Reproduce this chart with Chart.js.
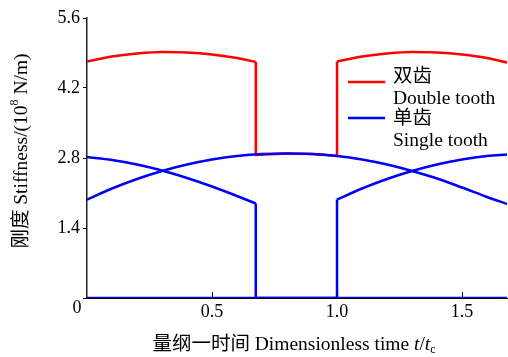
<!DOCTYPE html>
<html>
<head>
<meta charset="utf-8">
<script src="https://cdn.jsdelivr.net/npm/chart.js@4/dist/chart.umd.min.js"></script>
<style>
  html, body { margin: 0; padding: 0; background: #fff; }
  #wrap { width: 508px; height: 357px; }
</style>
</head>
<body>
<div id="wrap"><canvas id="chart" width="508" height="357"></canvas></div>
<script>
// ---- datos ----
// rigidez doble diente (roja)
const doubleX = [0, 0.1, 0.2, 0.3, 0.4, 0.5, 0.6, 0.675, 0.675, 0.8, 0.9, 1.0, 1.0, 1.1, 1.2, 1.3, 1.4, 1.5, 1.6, 1.68];
const doubleY = [4.73, 4.83, 4.89, 4.92, 4.91, 4.87, 4.80, 4.72, 2.86, 2.89, 2.88, 2.84, 4.73, 4.83, 4.89, 4.92, 4.91, 4.87, 4.80, 4.71];

// par de dientes que sale (azul)
const pairAX = [0, 0.1, 0.2, 0.3, 0.4, 0.5, 0.6, 0.675, 0.675, 1.68];
const pairAY = [2.82, 2.76, 2.67, 2.55, 2.40, 2.23, 2.04, 1.89, 0, 0];

// par de dientes que engrana todo el intervalo (azul)
const pairBX = [0, 0.1, 0.2, 0.3, 0.4, 0.5, 0.6, 0.7, 0.8, 0.9, 1.0, 1.1, 1.2, 1.3, 1.4, 1.5, 1.6, 1.68];
const pairBY = [1.97, 2.19, 2.38, 2.54, 2.67, 2.77, 2.84, 2.88, 2.89, 2.88, 2.84, 2.77, 2.67, 2.54, 2.39, 2.21, 2.02, 1.88];

// par de dientes que entra (azul)
const pairCX = [0, 1.0, 1.0, 1.1, 1.2, 1.3, 1.4, 1.5, 1.6, 1.68];
const pairCY = [0, 0, 1.97, 2.19, 2.38, 2.54, 2.67, 2.77, 2.84, 2.87];

const xTicks = [0, 0.5, 1.0, 1.5];
const xTickLabels = ['0', '0.5', '1.0', '1.5'];
const yTicks = [0, 1.4, 2.8, 4.2, 5.6];
const yTickLabels = ['0', '1.4', '2.8', '4.2', '5.6'];

const legendLabels = [['双齿', 'Double tooth'], ['单齿', 'Single tooth']];
const xTitle = '量纲一时间 Dimensionless time ';
const yTitle = ['刚度 Stiffness/(10', '8', ' N/m)'];

const RED = '#ff0000';
const BLUE = '#0000ff';
const SERIF = '"Liberation Serif", "Noto Sans CJK SC", serif';

// tramo de una serie: puntos desde el indice a hasta b (incluido)
function part(xs, ys, a, b) {
    const pts = [];
    for (let i = a; i <= b; i++) pts.push({ x: xs[i], y: ys[i] });
    return pts;
}

// arcos suaves y saltos rectos, cada uno como dataset propio
function curve(data, color, order) {
    return { data, borderColor: color, order, pointRadius: 0, borderWidth: 2.5, cubicInterpolationMode: 'monotone', fill: false };
}
function straight(data, color, order) {
    return { data, borderColor: color, order, pointRadius: 0, borderWidth: 2.5, tension: 0, fill: false };
}

// dibuja texto con trozos de distinto tamaño (superindice / subindice)
function drawRich(ctx, segs, cx, cy) {
    let total = 0;
    segs.forEach(s => {
        ctx.font = (s.italic ? 'italic ' : '') + s.size + 'px ' + SERIF;
        s.w = ctx.measureText(s.t).width;
        total += s.w;
    });
    let x = cx - total / 2;
    ctx.textAlign = 'left';
    ctx.textBaseline = 'middle';
    segs.forEach(s => {
        ctx.font = (s.italic ? 'italic ' : '') + s.size + 'px ' + SERIF;
        ctx.fillText(s.t, x, cy + (s.dy || 0));
        x += s.w;
    });
}

const extras = {
    id: 'extras',
    afterDraw(chart) {
        const ctx = chart.ctx;
        const xs = chart.scales.x;
        const area = chart.chartArea;
        ctx.save();
        ctx.fillStyle = '#000';
        ctx.strokeStyle = '#000';

        // marcas del eje x hacia dentro
        ctx.lineWidth = 1;
        xTicks.forEach(v => {
            if (v === 0) return;
            const px = Math.round(xs.getPixelForValue(v)) + 0.5;
            ctx.beginPath();
            ctx.moveTo(px, area.bottom - 1);
            ctx.lineTo(px, area.bottom - 6);
            ctx.stroke();
        });

        // el "0" compartido en el origen
        ctx.font = '18px ' + SERIF;
        ctx.textAlign = 'center';
        ctx.textBaseline = 'middle';
        ctx.fillText(xTickLabels[0], area.left - 10, area.bottom + 10);

        // titulo eje x
        drawRich(ctx, [
            { t: xTitle, size: 19.5 },
            { t: 't', size: 19.5, italic: true },
            { t: '/', size: 19.5 },
            { t: 't', size: 19.5, italic: true },
            { t: 'c', size: 12, dy: 5 }
        ], 294, 345);

        // titulo eje y
        ctx.save();
        ctx.translate(22, 151);
        ctx.rotate(-Math.PI / 2);
        drawRich(ctx, [
            { t: yTitle[0], size: 19.5 },
            { t: yTitle[1], size: 12, dy: -7 },
            { t: yTitle[2], size: 19.5 }
        ], 0, 0);
        ctx.restore();

        // leyenda
        const items = [
            { color: RED, y: 82, t1: 77, t2: 99, text: legendLabels[0] },
            { color: BLUE, y: 118, t1: 119, t2: 141, text: legendLabels[1] }
        ];
        ctx.lineWidth = 2.5;
        ctx.textAlign = 'left';
        ctx.textBaseline = 'middle';
        items.forEach(it => {
            ctx.strokeStyle = it.color;
            ctx.beginPath();
            ctx.moveTo(348, it.y);
            ctx.lineTo(385, it.y);
            ctx.stroke();
            ctx.font = '19.5px ' + SERIF;
            ctx.fillText(it.text[0], 393, it.t1);
            ctx.fillText(it.text[1], 393, it.t2);
        });
        ctx.restore();
    }
};

new Chart(document.getElementById('chart'), {
    type: 'line',
    data: {
        datasets: [
            // doble diente
            curve(part(doubleX, doubleY, 0, 7), RED, 3),
            straight(part(doubleX, doubleY, 7, 12), RED, 3),
            curve(part(doubleX, doubleY, 12, doubleX.length - 1), RED, 3),
            // diente simple
            curve(part(pairAX, pairAY, 0, 7), BLUE, 1),
            straight(part(pairAX, pairAY, 7, pairAX.length - 1), BLUE, 1),
            curve(part(pairBX, pairBY, 0, pairBX.length - 1), BLUE, 1),
            straight(part(pairCX, pairCY, 0, 2), BLUE, 1),
            curve(part(pairCX, pairCY, 2, pairCX.length - 1), BLUE, 1)
        ]
    },
    options: {
        responsive: false,
        animation: false,
        devicePixelRatio: 1,
        layout: { padding: { left: 0, right: 1, top: 18, bottom: 0 } },
        plugins: { legend: { display: false }, tooltip: { enabled: false } },
        scales: {
            x: {
                type: 'linear',
                min: 0,
                max: 1.68,
                afterBuildTicks: s => { s.ticks = xTicks.map(v => ({ value: v })); },
                afterFit: s => { s.height = 59; },
                grid: { display: false, drawTicks: false },
                border: { display: true, color: '#000', width: 1 },
                ticks: {
                    padding: 3,
                    maxRotation: 0,
                    color: '#000',
                    font: { family: SERIF, size: 18 },
                    callback: (v, i) => (i === 0 ? '' : xTickLabels[i])
                }
            },
            y: {
                min: 0,
                max: 5.6,
                afterBuildTicks: s => { s.ticks = yTicks.map(v => ({ value: v })); },
                afterFit: s => { s.width = 87; },
                grid: { drawOnChartArea: false, drawTicks: true, tickLength: 4, color: '#000' },
                border: { display: true, color: '#222', width: 1.5 },
                ticks: {
                    padding: 3,
                    color: '#000',
                    font: { family: SERIF, size: 18 },
                    callback: (v, i) => (i === 0 ? '' : yTickLabels[i])
                }
            }
        }
    },
    plugins: [extras]
});
</script>
</body>
</html>
